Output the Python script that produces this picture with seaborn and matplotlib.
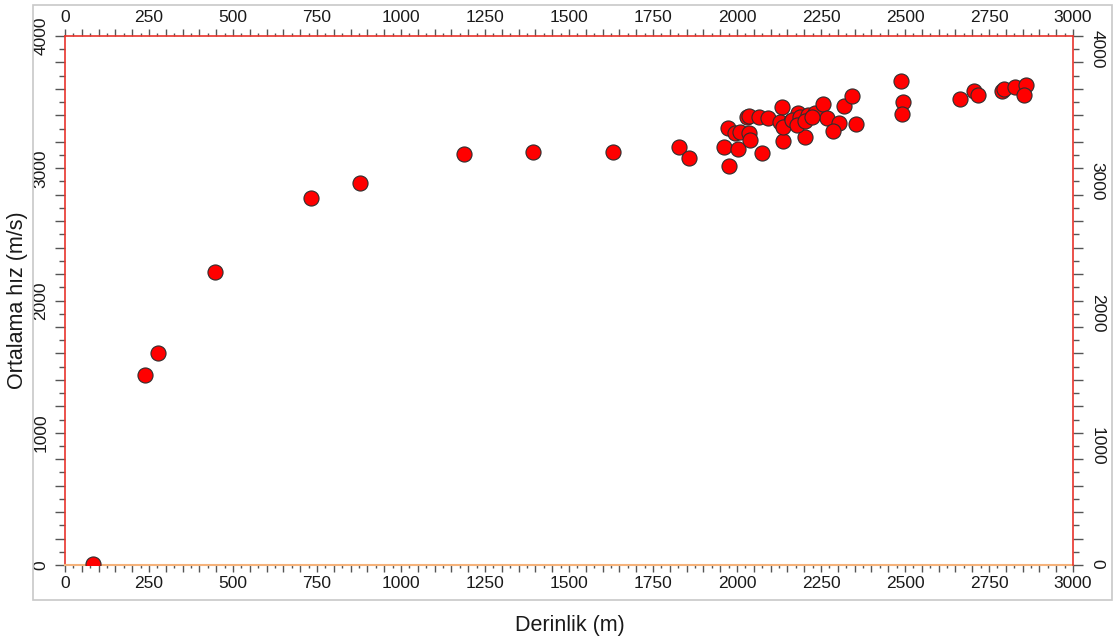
import matplotlib
matplotlib.use("Agg")
import matplotlib.pyplot as plt
from matplotlib.ticker import MultipleLocator, FuncFormatter
from matplotlib.patches import Rectangle
import seaborn as sns
import pandas as pd

# Data
derinlik = [84, 238, 277, 446, 732, 878, 1188, 1394, 1632, 1826, 1858,
            1962, 1977, 1974, 2004, 2074, 2136, 2202, 1994, 2009, 2037,
            2039, 2029, 2037, 2066, 2093, 2133, 2128, 2160, 2137, 2182,
            2163, 2188, 2212, 2232, 2257, 2269, 2304, 2287, 2318, 2341,
            2354, 2488, 2493, 2490, 2664, 2706, 2716, 2788, 2795, 2827,
            2860, 2854, 2178, 2202, 2223]
hiz = [8, 1437, 1603, 2215, 2775, 2888, 3107, 3125, 3125, 3158, 3075,
       3161, 3015, 3302, 3149, 3115, 3208, 3236, 3264, 3276, 3264,
       3214, 3385, 3395, 3390, 3378, 3461, 3352, 3360, 3314, 3418,
       3365, 3390, 3403, 3415, 3486, 3378, 3342, 3284, 3468, 3546,
       3335, 3662, 3503, 3410, 3524, 3584, 3554, 3586, 3597, 3612,
       3627, 3556, 3329, 3357, 3388]

x_label = "Derinlik (m)"
y_label = "Ortalama hız (m/s)"

df = pd.DataFrame({"x": derinlik, "y": hiz})

sns.set_theme(style="white")
plt.rcParams["font.family"] = ["Liberation Sans", "DejaVu Sans"]

W, H = 1115, 643
fig = plt.figure(figsize=(W / 100, H / 100), dpi=100)
fig.patch.set_facecolor("white")

L, R, T, B = 65, 1073, 36, 565
ax = fig.add_axes([L / W, 1 - B / H, (R - L) / W, (B - T) / H])

# Figure frame
fig.patches.append(Rectangle((33 / W, 1 - 600 / H), (1112 - 33) / W, (600 - 5) / H,
                             transform=fig.transFigure, fill=False,
                             edgecolor="#c8c8c8", linewidth=1.2, zorder=0))

sns.scatterplot(data=df, x="x", y="y", ax=ax, color="#ff0000",
                edgecolor="#2e2e2e", linewidth=0.8, s=118, legend=False, zorder=3)

ax.set_xlim(0, 3000)
ax.set_ylim(0, 4000)
ax.set_xlabel("")
ax.set_ylabel("")

red = "#e8342c"
for side in ["left", "top", "right"]:
    ax.spines[side].set_color(red)
    ax.spines[side].set_linewidth(1.2)
ax.spines["bottom"].set_color("#f5b27a")
ax.spines["bottom"].set_linewidth(1.5)
ax.spines["right"].set_visible(False)

tick_col = "#555555"
lab_col = "#1a1a1a"

ax.xaxis.set_major_locator(MultipleLocator(50))
ax.xaxis.set_minor_locator(MultipleLocator(25))
ax.xaxis.set_major_formatter(FuncFormatter(lambda v, p: f"{int(round(v))}" if round(v) % 250 == 0 else ""))
ax.yaxis.set_major_locator(MultipleLocator(200))
ax.yaxis.set_minor_locator(MultipleLocator(100))
ax.yaxis.set_major_formatter(FuncFormatter(lambda v, p: f"{int(round(v))}" if round(v) % 1000 == 0 else ""))

ax.tick_params(axis="x", which="major", direction="out", length=5, width=1,
               color=tick_col, labelsize=12.5, labelcolor=lab_col, pad=3,
               top=True, labeltop=True, bottom=True, labelbottom=True)
ax.tick_params(axis="x", which="minor", direction="out", length=2.5, width=1,
               color=tick_col, top=True, bottom=True)
ax.tick_params(axis="y", which="major", direction="out", length=7, width=1,
               color=tick_col, labelsize=12.5, labelcolor=lab_col, pad=5,
               left=True, right=False, labelleft=True, labelright=False,
               labelrotation=90)
ax.tick_params(axis="y", which="minor", direction="out", length=4.5, width=1,
               color=tick_col, left=True, right=False)
for lbl in ax.get_yticklabels():
    lbl.set_verticalalignment("center")

# Right-hand axis with rotated labels
ax2 = ax.twinx()
ax2.set_ylim(0, 4000)
for side in ["left", "top", "bottom"]:
    ax2.spines[side].set_visible(False)
ax2.spines["right"].set_color(red)
ax2.spines["right"].set_linewidth(1.2)
ax2.yaxis.set_major_locator(MultipleLocator(200))
ax2.yaxis.set_minor_locator(MultipleLocator(100))
ax2.yaxis.set_major_formatter(FuncFormatter(lambda v, p: f"{int(round(v))}" if round(v) % 1000 == 0 else ""))
ax2.tick_params(axis="y", which="major", direction="out", length=7, width=1,
                color=tick_col, labelsize=12.5, labelcolor=lab_col, pad=5,
                labelrotation=-90)
ax2.tick_params(axis="y", which="minor", direction="out", length=4.5, width=1,
                color=tick_col)
ax2.grid(False)
ax.grid(False)

fig.text(18 / W, 1 - 300 / H, y_label, rotation=90, ha="center", va="center",
         fontsize=15.5, color=lab_col)
fig.text(570 / W, 1 - 625 / H, x_label, ha="center", va="center",
         fontsize=15.5, color=lab_col)

fig.savefig("out.png", dpi=100)
